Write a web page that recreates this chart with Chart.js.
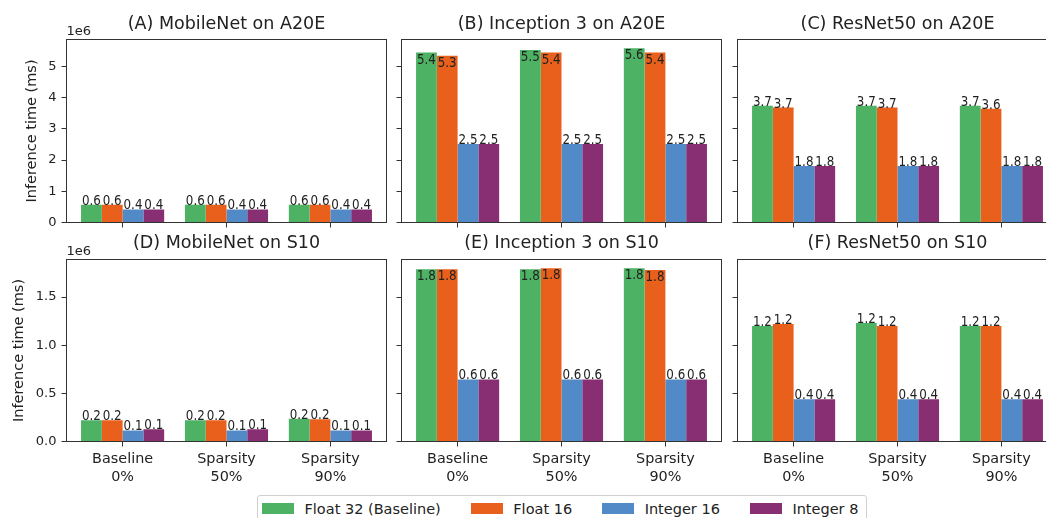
<!DOCTYPE html>
<html><head><meta charset="utf-8">
<script src="https://cdn.jsdelivr.net/npm/chart.js@4.4.1/dist/chart.umd.min.js"></script>
<style>
html,body{margin:0;padding:0;width:1046px;height:518px;overflow:hidden;background:#fff;}
canvas{position:absolute;left:0;top:0;}
#legend{position:absolute;left:257px;top:495px;height:27px;border:1px solid #d0d0d0;border-radius:3px;background:#fff;display:flex;align-items:center;padding:0 8px 0 4px;box-sizing:border-box;font:14.5px 'DejaVu Sans';color:#222;white-space:nowrap;z-index:5;}
.item{display:flex;align-items:center;}
.sw{width:32px;height:11px;margin-right:10.5px;}
.item + .item{margin-left:30px}
</style></head><body>
<div id="legend"></div>
<script>
// ---------- data (inference time, units of 1e6 ms) ----------
const categories = [["Baseline", "0%"], ["Sparsity", "50%"], ["Sparsity", "90%"]];
const seriesNames = ["Float 32 (Baseline)", "Float 16", "Integer 16", "Integer 8"];
const seriesColors = ["#4EB265", "#E8601C", "#5289C7", "#882E72"];
const panelTitles = ["(A) MobileNet on A20E", "(B) Inception 3 on A20E", "(C) ResNet50 on A20E",
                     "(D) MobileNet on S10", "(E) Inception 3 on S10", "(F) ResNet50 on S10"];

// each: [Float32, Float16, Integer16, Integer8] x [Baseline 0%, Sparsity 50%, Sparsity 90%]
const mobileNetA20E   = [[0.57, 0.57, 0.57], [0.57, 0.57, 0.57], [0.42, 0.42, 0.42], [0.42, 0.42, 0.42]];
const inception3A20E  = [[5.44, 5.52, 5.58], [5.34, 5.44, 5.44], [2.51, 2.51, 2.51], [2.51, 2.51, 2.51]];
const resNet50A20E    = [[3.74, 3.74, 3.74], [3.68, 3.68, 3.64], [1.81, 1.81, 1.81], [1.81, 1.81, 1.81]];
const mobileNetS10    = [[0.22, 0.22, 0.235], [0.22, 0.22, 0.23], [0.115, 0.115, 0.115], [0.128, 0.128, 0.115]];
const inception3S10   = [[1.79, 1.79, 1.80], [1.79, 1.80, 1.78], [0.645, 0.645, 0.645], [0.645, 0.645, 0.645]];
const resNet50S10     = [[1.20, 1.23, 1.20], [1.22, 1.20, 1.20], [0.44, 0.44, 0.44], [0.44, 0.44, 0.44]];
const panelValues = [mobileNetA20E, inception3A20E, resNet50A20E, mobileNetS10, inception3S10, resNet50S10];

const yTicksTop = [0, 1, 2, 3, 4, 5];
const yTickLabelsTop = ["0", "1", "2", "3", "4", "5"];
const yTicksBottom = [0, 0.5, 1.0, 1.5];
const yTickLabelsBottom = ["0.0", "0.5", "1.0", "1.5"];
const yAxisTitle = "Inference time (ms)";
const offsetText = "1e6";

// ---------- layout ----------
const W = 1100, H = 518;
const colLeft = [66.5, 401.5, 737.5];
const colWidth = 320;
const rowTop = [39.5, 259.5];
const rowBottom = [222.5, 441.5];
const titleBaseline = [29.4, 248];
const yTitleX = [36.4, 23.3];
const FONT = "'DejaVu Sans', sans-serif";
const TXT = "#222";
const AX = "#333";

const rowYTicks = [yTicksTop, yTicksBottom];
const rowYTickLabels = [yTickLabelsTop, yTickLabelsBottom];
const rowMax = [0, 1].map(r => {
  let m = 0;
  for (let c = 0; c < 3; c++) panelValues[r * 3 + c].forEach(s => s.forEach(v => { m = Math.max(m, v); }));
  return m * 1.05;
});

function makeChart(idx) {
  const row = Math.floor(idx / 3), col = idx % 3;
  const values = panelValues[idx];
  const left = colLeft[col], right = left + colWidth, top = rowTop[row], bottom = rowBottom[row];
  const ymax = rowMax[row];
  const canvas = document.createElement('canvas');
  canvas.width = W; canvas.height = H;
  canvas.style.width = W + 'px'; canvas.style.height = H + 'px';
  document.body.appendChild(canvas);

  const decor = {
    id: 'decor' + idx,
    afterDatasetsDraw(chart) {
      const ctx = chart.ctx;
      ctx.save();
      ctx.fillStyle = TXT;
      ctx.font = "14px " + FONT;
      ctx.textAlign = 'center';
      ctx.textBaseline = 'alphabetic';
      chart.data.datasets.forEach((ds, s) => {
        const meta = chart.getDatasetMeta(s);
        meta.data.forEach((el, i) => {
          const v = ds.data[i].y;
          const txt = v.toFixed(1);
          const y = (v > 0.8 * ymax) ? el.y + 11 : el.y;
          ctx.save();
          ctx.translate(el.x, y);
          ctx.scale(0.85, 1);
          ctx.fillText(txt, 0, 0);
          ctx.restore();
        });
      });
      ctx.restore();
    },
    afterDraw(chart) {
      const ctx = chart.ctx;
      const ca = chart.chartArea;
      ctx.save();
      ctx.strokeStyle = AX;
      ctx.lineWidth = 1;
      ctx.strokeRect(ca.left, ca.top, ca.right - ca.left, ca.bottom - ca.top);
      ctx.fillStyle = TXT;
      ctx.font = "17.5px " + FONT;
      ctx.textAlign = 'center';
      ctx.textBaseline = 'alphabetic';
      ctx.fillText(panelTitles[idx], (ca.left + ca.right) / 2, titleBaseline[row]);
      if (col === 0) {
        ctx.font = "13px " + FONT;
        ctx.textAlign = 'left';
        ctx.fillText(offsetText, ca.left, ca.top - 4.5);
        ctx.save();
        ctx.translate(yTitleX[row], (ca.top + ca.bottom) / 2);
        ctx.rotate(-Math.PI / 2);
        ctx.font = "14.5px " + FONT;
        ctx.textAlign = 'center';
        ctx.fillText(yAxisTitle, 0, 0);
        ctx.restore();
      }
      ctx.restore();
    }
  };

  return new Chart(canvas, {
    type: 'bar',
    data: {
      datasets: seriesNames.map((n, s) => ({
        label: n,
        data: values[s].map((v, i) => ({ x: i, y: v })),
        backgroundColor: seriesColors[s],
        borderWidth: 0,
        categoryPercentage: 0.8,
        barPercentage: 1.0
      }))
    },
    options: {
      responsive: false,
      animation: false,
      devicePixelRatio: 1,
      events: [],
      layout: { padding: { left: 0, top: top, right: W - right, bottom: 0 } },
      plugins: { legend: { display: false }, tooltip: { enabled: false }, title: { display: false } },
      scales: {
        x: {
          type: 'linear', min: -0.54, max: 2.54, bounds: 'data', offset: false,
          grid: { display: true, drawOnChartArea: false, drawTicks: true, tickLength: 5, color: AX, lineWidth: 1, offset: false },
          border: { display: false },
          afterBuildTicks: sc => { sc.ticks = categories.map((c, i) => ({ value: i })); },
          afterFit: sc => { sc.height = H - bottom; },
          ticks: {
            display: row === 1, autoSkip: false, maxRotation: 0, minRotation: 0,
            callback: (v, i) => categories[i],
            font: { family: FONT, size: 14.4, lineHeight: 1.3 }, color: TXT, padding: 3
          }
        },
        y: {
          type: 'linear', min: 0, max: ymax, bounds: 'data',
          grid: { display: true, drawOnChartArea: false, drawTicks: true, tickLength: 5, color: AX, lineWidth: 1 },
          border: { display: false },
          afterBuildTicks: sc => { sc.ticks = rowYTicks[row].map(v => ({ value: v })); },
          afterFit: sc => { sc.width = left; },
          ticks: {
            display: col === 0, autoSkip: false,
            callback: (v, i) => rowYTickLabels[row][i],
            font: { family: FONT, size: 13 }, color: TXT, padding: 5
          }
        }
      }
    },
    plugins: [decor]
  });
}

for (let i = 0; i < 6; i++) makeChart(i);

// legend (HTML)
const legend = document.getElementById('legend');
seriesNames.forEach((n, s) => {
  const item = document.createElement('div');
  item.className = 'item';
  const sw = document.createElement('div');
  sw.className = 'sw';
  sw.style.background = seriesColors[s];
  const lab = document.createElement('span');
  lab.textContent = n;
  item.appendChild(sw);
  item.appendChild(lab);
  legend.appendChild(item);
});
</script>
</body></html>
